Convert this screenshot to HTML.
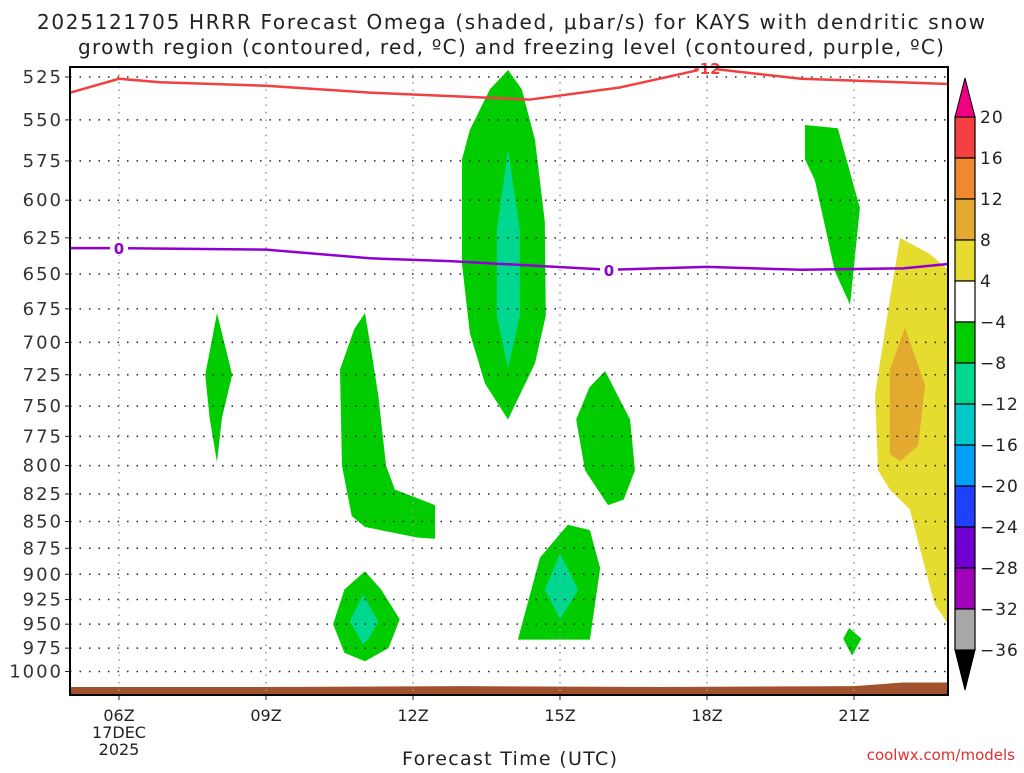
<!DOCTYPE html>
<html><head><meta charset="utf-8"><style>
body{margin:0;background:#fff;width:1024px;height:768px;overflow:hidden}
text{font-family:"DejaVu Sans","Liberation Sans",sans-serif}
</style></head><body>
<svg id="c" width="1024" height="768" xmlns="http://www.w3.org/2000/svg">
<text x="37" y="29" textLength="948" lengthAdjust="spacing" font-size="20" fill="#222">2025121705 HRRR Forecast Omega (shaded, μbar/s) for KAYS with dendritic snow</text>
<text x="78" y="54" textLength="866" lengthAdjust="spacing" font-size="20" fill="#222">growth region (contoured, red, ºC) and freezing level (contoured, purple, ºC)</text>
<g id="plot"></g>
<text x="402" y="765" textLength="215" lengthAdjust="spacing" font-size="19" fill="#222">Forecast Time (UTC)</text>
<text x="1015" y="760" text-anchor="end" font-size="15" fill="#e03030">coolwx.com/models</text>
</svg>
<script>
const pTicks=[525,550,575,600,625,650,675,700,725,750,775,800,825,850,875,900,925,950,975,1000];
const hourTicks=[6,9,12,15,18,21];
const hourLabels=["06Z","09Z","12Z","15Z","18Z","21Z"];
const cbLevels=[20,16,12,8,4,-4,-8,-12,-16,-20,-24,-28,-32,-36];
const cbColors=["#f44040","#f08830","#e4aa30","#e6dc30","#ffffff","#00cc00","#00d890","#00c8c8","#00a0f8","#2040ff","#7000d0","#a000b8","#a8a8a8"];
const greenBlobBig=[[13.94,521],[14.22,532],[14.49,562],[14.69,614],[14.71,680],[14.49,716],[14.18,741],[13.94,761],[13.47,732],[13.16,693],[13.0,643],[13.0,574],[13.16,556],[13.57,532]];
const tealBlobBig=[[13.94,568],[14.18,620],[14.18,680],[13.94,720],[13.71,680],[13.71,620]];
const greenSpindle08=[[8.0,678],[8.31,725],[8.1,760],[8.0,797],[7.85,760],[7.76,725]];
const greenBlob11=[[11.02,678],[11.16,709],[11.29,741],[11.45,800],[11.63,821],[12.45,835],[12.45,866],[12.1,865],[11.02,855],[10.75,845],[10.55,800],[10.51,721],[10.8,690]];
const greenBlob11Low=[[11.02,897],[11.35,915],[11.73,945],[11.5,975],[11.02,989],[10.6,980],[10.37,950],[10.6,915]];
const tealBlob11Low=[[10.98,920],[11.29,947],[11.1,965],[10.98,971],[10.71,947]];
const greenBlob16=[[15.92,722],[16.43,761],[16.53,804],[16.3,830],[15.98,835],[15.51,804],[15.33,761],[15.6,735]];
const greenBlob15Low=[[15.16,853],[15.61,858],[15.82,894],[15.61,966],[14.14,966],[14.59,884]];
const tealBlob15Low=[[15.0,880],[15.37,915],[15.0,945],[14.69,915]];
const greenBlob20=[[20.0,553],[20.67,555],[21.12,605],[20.92,672],[20.61,648],[20.2,587],[20.0,574]];
const greenDot21=[[20.9,954],[21.15,965],[20.96,983],[20.78,965]];
const yellowBlob22=[[21.94,625],[22.55,636],[22.92,647],[22.92,950],[22.65,930],[22.45,894],[22.14,839],[21.73,821],[21.49,804],[21.43,741],[21.73,668]];
const orangeBlob22=[[22.04,689],[22.45,733],[22.31,783],[21.94,796],[21.73,790],[21.73,721]];
const dgzHours=[5,6,6.84,9,11.12,14.39,16.22,18,19.92,22.92];
const dgzP=[534,526,528,530,534,538,531,520,526,529];
const frzHours=[5,6,9,11.12,12.76,16,18,19.92,22,22.92];
const frzP=[632,632,633,639,641,647,645,647,646,643];
const groundHours=[5,9,13,17,21,22,22.92];
const groundP=[1017,1017,1016,1017,1016,1012,1012];

const L=70,R=948,T=67,B=695;
const X=h=>L+(h-5)*49;
const Y=p=>77+Math.log(p/525)*922.6;
const NS="http://www.w3.org/2000/svg";
const g=document.getElementById('plot');
function mk(tag,attrs,parent){const e=document.createElementNS(NS,tag);for(const k in attrs)e.setAttribute(k,attrs[k]);(parent||g).appendChild(e);return e;}
function poly(pts,fill,name){const e=mk('polygon',{points:pts.map(q=>X(q[0])+','+Y(q[1])).join(' '),fill:fill});

}
poly(greenBlobBig,'#00cc00','omega-green-13z');
poly(tealBlobBig,'#00d890','omega-teal-14z');
poly(greenSpindle08,'#00cc00','omega-green-08z');
poly(greenBlob11,'#00cc00','omega-green-11z');
poly(greenBlob11Low,'#00cc00','omega-green-11z-low');
poly(tealBlob11Low,'#00d890','omega-teal-11z-low');
poly(greenBlob16,'#00cc00','omega-green-16z');
poly(greenBlob15Low,'#00cc00','omega-green-15z-low');
poly(tealBlob15Low,'#00d890','omega-teal-15z-low');
poly(greenBlob20,'#00cc00','omega-green-20z');
poly(greenDot21,'#00cc00','omega-green-21z');
poly(yellowBlob22,'#e6dc30','omega-yellow-22z');
poly(orangeBlob22,'#e4aa30','omega-orange-22z');
{const pts=groundHours.map((h,i)=>X(h)+','+Y(groundP[i]));pts.push(R+','+B,L+','+B);
const e=mk('polygon',{points:pts.join(' '),fill:'#a0522d'});

}
pTicks.forEach(p=>{const y=Y(p);
const ln=mk('line',{x1:L,x2:R,y1:y,y2:y,stroke:'#222','stroke-width':1.5,'stroke-dasharray':'1.5 8'});


mk('line',{x1:L-5,x2:L,y1:y,y2:y,stroke:'#222'});
const t=mk('text',{x:L-7,y:y+6,'text-anchor':'end','font-size':18,'letter-spacing':2,fill:'#333'});t.textContent=p;

});
hourTicks.forEach((h,i)=>{const x=X(h);
const ln=mk('line',{x1:x,x2:x,y1:T,y2:B,stroke:'#999','stroke-width':1.5,'stroke-dasharray':'1.5 6'});


mk('line',{x1:x,x2:x,y1:B,y2:B+5,stroke:'#222'});
const t=mk('text',{x:x,y:721,'text-anchor':'middle','font-size':16,fill:'#222'});t.textContent=hourLabels[i];

});
[["17DEC",738],["2025",755]].forEach(a=>{const t=mk('text',{x:X(6),y:a[1],'text-anchor':'middle','font-size':16,fill:'#222'});t.textContent=a[0];

});
function line(hs,ps,col,name){const e=mk('polyline',{points:hs.map((h,i)=>X(h)+','+Y(ps[i])).join(' '),fill:'none',stroke:col,'stroke-width':2.5,'stroke-linejoin':'round'});

}
line(dgzHours,dgzP,'#f04040','dgz-minus12-contour');
line(frzHours,frzP,'#9000d0','freezing-level-contour');
function lab(h,p,txt,col,name){const x=X(h),y=Y(p);mk('rect',{x:x-9,y:y-8,width:18,height:15,fill:'#fff'});
const t=mk('text',{x:x,y:y+6,'text-anchor':'middle','font-size':15,'font-weight':'bold',fill:col});t.textContent=txt;

}
lab(18,520,'-12','#f04040','dgz-label');
lab(6,632,'0','#9000d0','freezing-label-06z');
lab(16,647,'0','#9000d0','freezing-label-16z');
const fr=mk('rect',{x:L,y:T,width:R-L,height:B-T,fill:'none',stroke:'#000','stroke-width':2});


const cbx=955,cbw=20,cbTop=117,cbH=41;
const cb=mk('g',{});


cbColors.forEach((c,i)=>{mk('rect',{x:cbx,y:cbTop+i*cbH,width:cbw,height:cbH,fill:c,stroke:'#000','stroke-width':1.2},cb);});
mk('polygon',{points:`${cbx},${cbTop} ${cbx+cbw},${cbTop} ${cbx+cbw/2},78`,fill:'#f00080',stroke:'#000'},cb);
const bot=cbTop+cbColors.length*cbH;
mk('polygon',{points:`${cbx},${bot} ${cbx+cbw},${bot} ${cbx+cbw/2},690`,fill:'#000',stroke:'#000'},cb);
cbLevels.forEach((v,i)=>{const t=mk('text',{x:980,y:cbTop+i*cbH+6,'font-size':17,'letter-spacing':1,fill:'#222'},cb);t.textContent=v<0?'\u2212'+(-v):v;

});
</script>
</body></html>
